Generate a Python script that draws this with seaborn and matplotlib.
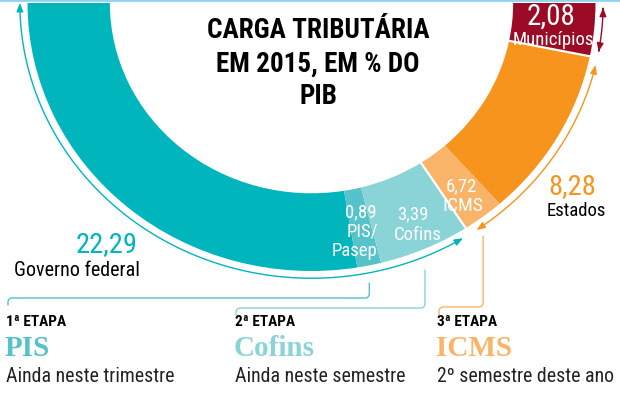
import numpy as np
import matplotlib
matplotlib.use('Agg')
import matplotlib.pyplot as plt
import seaborn as sns
from matplotlib import font_manager
from matplotlib.patches import FancyArrowPatch
from matplotlib.path import Path
from matplotlib.lines import Line2D

# Carga tributária em 2015, em % do PIB
groups = ['Governo federal', 'Estados', 'Municípios']
group_values = [22.29, 8.28, 2.08]
federal_items = ['PIS/Pasep', 'Cofins']
federal_values = [0.89, 3.39]
state_items = ['ICMS']
state_values = [6.72]

stage_labels = ['1ª ETAPA', '2ª ETAPA', '3ª ETAPA']
stage_taxes = ['PIS', 'Cofins', 'ICMS']
stage_when = ['Ainda neste trimestre', 'Ainda neste semestre', '2º semestre deste ano']

TEAL = '#00b5bc'
PIS_C = '#55c3c9'
COF_C = '#8ad3d7'
ORANGE_L = '#fab46a'
ORANGE = '#f7941e'
RED = '#9b0b25'

# look for a narrow sans face, the original uses a condensed font
names = {f.name for f in font_manager.fontManager.ttflist}
COND = 'Roboto'
for cand in ['Roboto Condensed', 'Liberation Sans Narrow', 'Open Sans Condensed',
             'Noto Sans Condensed', 'DejaVu Sans Condensed', 'Arial Narrow']:
    if cand in names:
        COND = cand
        break

SANS = [COND, 'DejaVu Sans']
SERIF = ['Liberation Serif', 'DejaVu Serif']

sns.set_theme(style='white')
plt.rcParams['font.family'] = SANS
plt.rcParams['font.stretch'] = 'condensed'

W, H = 620, 394
# ring geometry in pixels (centre, horizontal and vertical radius)
CX, CY, RX, RY = 311.5, 3, 284, 268


def px(x, y):
    return (x - CX) / RX, (CY - y) / RY


def fmt(v):
    return f'{v:.2f}'.replace('.', ',')


total = sum(group_values)


def ang(c):
    return np.deg2rad(180 + 180 * c / total)


fig = plt.figure(figsize=(W / 100, H / 100), dpi=100)
ax = fig.add_axes([0, 0, 1, 1])

slices = [group_values[0] - sum(federal_values), federal_values[0], federal_values[1],
          group_values[1] - state_values[0], state_values[0], group_values[2]]
colors = [TEAL, PIS_C, COF_C, ORANGE_L, ORANGE, RED]
ax.pie(slices + [total], colors=colors + ['none'], startangle=180, counterclock=True,
       radius=1, wedgeprops=dict(width=0.29, linewidth=0))

ax.set_aspect('auto')
ax.set_xlim(-CX / RX, (W - CX) / RX)
ax.set_ylim((CY - H) / RY, CY / RY)
ax.axis('off')

# white separators between the three levels of government
for c in np.cumsum(group_values)[:-1]:
    t = ang(c)
    ax.plot([0.69 * np.cos(t), 1.01 * np.cos(t)], [0.69 * np.sin(t), 1.01 * np.sin(t)],
            color='white', lw=1.6, solid_capstyle='butt')

# double arrows along the rim
RA = 1.027
cum = np.concatenate([[0], np.cumsum(group_values)])
pads = [(0, 1.6), (1.6, 1.6), (1.3, 1.0)]
for i, col in enumerate([TEAL, ORANGE, RED]):
    t = np.linspace(ang(cum[i]) + np.deg2rad(pads[i][0]), ang(cum[i + 1]) - np.deg2rad(pads[i][1]), 120)
    verts = np.column_stack([RA * np.cos(t), RA * np.sin(t)])
    arr = FancyArrowPatch(path=Path(verts), arrowstyle='<|-|>,head_length=0.5,head_width=0.2',
                          mutation_scale=10, color=col, lw=1)
    ax.add_patch(arr)


def put(x, y, s, **kw):
    kw.setdefault('va', 'center')
    ax.text(*px(x, y), s, **kw)


# title
for s, y in zip(['CARGA TRIBUTÁRIA', 'EM 2015, EM % DO', 'PIB'], [31, 64, 96]):
    put(318, y, s, ha='center', fontsize=19.5, weight='bold', color='black')

# group labels
put(551, 17, fmt(group_values[2]), ha='center', fontsize=21, color='white')
put(553, 40, groups[2], ha='center', fontsize=13.5, color='white')
put(596, 187, fmt(group_values[1]), ha='right', fontsize=20.5, color=ORANGE)
put(606, 211, groups[1], ha='right', fontsize=13.5, color='black')
put(138, 245, fmt(group_values[0]), ha='right', fontsize=20.5, color=TEAL)
put(140, 270, groups[0], ha='right', fontsize=14.5, color='black')

# labels inside the ring
put(461, 186, fmt(state_values[0]), ha='center', fontsize=13.5, color='white')
put(463, 206, state_items[0], ha='center', fontsize=14, color='white')
put(413, 214, fmt(federal_values[1]), ha='center', fontsize=13.5, color='white')
put(418, 235, federal_items[1], ha='center', fontsize=13.5, color='white')
put(377, 212, fmt(federal_values[0]), ha='right', fontsize=13.5, color='white')
put(378, 231, 'PIS/', ha='right', fontsize=13.5, color='white')
put(377, 251, 'Pasep', ha='right', fontsize=13.5, color='white')


# connectors to the stages
def bracket(c_mid, y0, yh, xl, y1, color, r=4):
    xv = CX + RX * np.cos(ang(c_mid))
    a1 = np.linspace(0, np.pi / 2, 8)
    pts = [(xv, y0), (xv, yh - r)]
    pts += [(xv - r + r * np.cos(a), yh - r + r * np.sin(a)) for a in a1]
    pts += [(xl + r, yh)]
    pts += [(xl + r - r * np.sin(a), yh + r - r * np.cos(a)) for a in a1]
    pts += [(xl, y1)]
    d = np.array([px(x, y) for x, y in pts])
    ax.plot(d[:, 0], d[:, 1], color=color, lw=1)


base = slices[0]
bracket(base + federal_values[0] / 2, 283, 298, 8, 305, PIS_C)
bracket(base + federal_values[0] + federal_values[1] / 2, 270, 308, 236, 315, COF_C)
bracket(group_values[0] + slices[3] / 2, 236, 307, 439, 315, ORANGE_L)

stage_x = [6, 235, 437]
stage_colors = [PIS_C, COF_C, ORANGE_L]
for i in range(3):
    put(stage_x[i], 322, stage_labels[i], fontsize=11, weight='bold', color='black')
    put(stage_x[i] - 1, 349, stage_taxes[i], family=SERIF, fontsize=21, weight='bold',
        color=stage_colors[i])
    put(stage_x[i], 377, stage_when[i], fontsize=14.3, color='#222222')

fig.add_artist(Line2D([0, 1], [1, 1], transform=fig.transFigure, color='#8fd5f0', lw=2))

fig.savefig('out.png', dpi=100)
